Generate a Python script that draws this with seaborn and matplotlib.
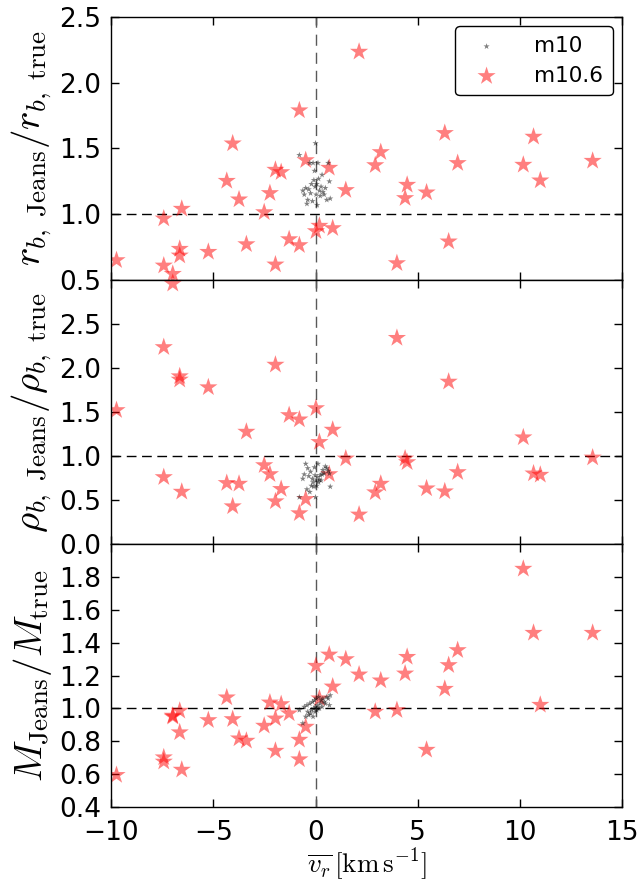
import matplotlib
matplotlib.use("Agg")
import matplotlib.pyplot as plt
import seaborn as sns
import numpy as np

# ---------------- data ----------------
# m10.6 (red stars)
vr_m106 = [-9.73, -7.42, -7.42, -6.98, -6.98, -6.64, -6.64, -6.54, -5.24, -4.34,
           -4.05, -3.74, -3.38, -2.51, -2.23, -1.96, -1.96, -1.68, -1.29, -0.79,
           -0.79, -0.48, 0.02, 0.19, 0.67, 0.84, 1.48, 2.13, 2.92, 3.19,
           3.98, 4.38, 4.48, 5.43, 6.32, 6.51, 6.95, 10.16, 10.66, 10.99, 13.55]
rb_m106 = [0.652, 0.968, 0.611, 0.548, 0.480, 0.738, 0.687, 1.042, 0.715, 1.254,
           1.538, 1.113, 0.773, 1.016, 1.161, 1.338, 0.619, 1.320, 0.811, 1.789,
           0.766, 1.411, 0.872, 0.913, 1.353, 0.895, 1.184, 2.234, 1.373, 1.472,
           0.629, 1.123, 1.224, 1.166, 1.617, 0.794, 1.389, 1.376, 1.589, 1.257, 1.406]
rho_m106 = [1.521, 2.238, 0.758, 2.960, 3.200, 1.906, 1.868, 0.592, 1.781, 0.691,
            0.426, 0.683, 1.275, 0.894, 0.792, 2.038, 0.483, 0.623, 1.464, 1.415,
            0.347, 0.509, 1.543, 1.158, 0.792, 1.298, 0.970, 0.332, 0.585, 0.683,
            2.343, 0.970, 0.928, 0.630, 0.596, 1.845, 0.815, 1.211, 0.800, 0.785, 0.981]
M_m106 = [0.596, 0.703, 0.677, 0.956, 0.950, 0.986, 0.855, 0.628, 0.929, 1.067,
          0.935, 0.818, 0.804, 0.895, 1.036, 0.939, 0.743, 1.026, 0.970, 0.810,
          0.691, 0.889, 1.259, 1.061, 1.327, 1.133, 1.299, 1.206, 0.980, 1.170,
          0.990, 1.212, 1.313, 0.749, 1.119, 1.263, 1.354, 1.848, 1.459, 1.022, 1.459]

# m10 (small black stars)
vr_m10 = [-0.79, -0.62, -0.55, -0.48, -0.42, -0.38, -0.33, -0.28, -0.24, -0.20,
          -0.15, -0.12, -0.08, -0.05, -0.02, 0.00, 0.03, 0.06, 0.08, 0.12,
          0.15, 0.19, 0.23, 0.27, 0.32, 0.36, 0.42, 0.48, 0.55, 0.62, 0.68, 0.72]
rb_m10 = [1.45, 1.18, 1.15, 1.20, 1.08, 1.11, 1.19, 1.39, 1.16, 1.23,
          1.10, 1.39, 1.26, 1.33, 1.21, 1.54, 1.15, 1.23, 1.07, 1.39,
          1.27, 1.18, 1.14, 1.21, 1.30, 1.17, 1.15, 1.20, 1.11, 1.39, 1.25, 1.12]
rho_m10 = [0.53, 0.74, 0.79, 0.91, 0.62, 0.86, 0.77, 0.59, 0.82, 0.66,
           0.74, 0.70, 0.65, 0.87, 0.78, 0.53, 0.72, 0.66, 0.76, 0.91,
           0.70, 0.73, 0.78, 0.72, 0.79, 0.84, 0.80, 0.88, 0.86, 0.83, 0.80, 0.65]
M_m10 = [0.99, 0.91, 1.01, 0.95, 1.02, 0.98, 0.96, 1.03, 0.97, 0.99,
         1.04, 0.95, 1.00, 1.05, 0.98, 1.01, 1.06, 0.99, 1.02, 1.00,
         1.07, 1.00, 1.03, 1.05, 1.01, 1.06, 1.04, 1.03, 1.07, 1.06, 1.02, 1.08]

xticks = [-10, -5, 0, 5, 10, 15]
yticks_top = [0.5, 1.0, 1.5, 2.0, 2.5]
yticks_mid = [0.0, 0.5, 1.0, 1.5, 2.0, 2.5]
yticks_bot = [0.4, 0.6, 0.8, 1.0, 1.2, 1.4, 1.6, 1.8]

ylabels = [r"$r_{b,\ \mathrm{Jeans}}/r_{b,\ \mathrm{true}}$",
           r"$\rho_{b,\ \mathrm{Jeans}}/\rho_{b,\ \mathrm{true}}$",
           r"$M_{\mathrm{Jeans}}/M_{\mathrm{true}}$"]
xlabel = r"$\overline{v_r}\,[\mathrm{km\,s^{-1}}]$"

# ---------------- style ----------------
sns.set_style("ticks")
plt.rcParams["font.family"] = ["DejaVu Sans"]
plt.rcParams["mathtext.fontset"] = "cm"
plt.rcParams["axes.linewidth"] = 1.0
plt.rcParams["axes.unicode_minus"] = True
plt.rcParams["text.color"] = "k"
plt.rcParams["axes.labelcolor"] = "k"
plt.rcParams["xtick.color"] = "k"
plt.rcParams["ytick.color"] = "k"

fig = plt.figure(figsize=(6.41, 8.84), dpi=100)
left, right, top, bottom = 111 / 641, 622.3 / 641, 1 - 16.7 / 884, 1 - 807.3 / 884
h = (top - bottom) / 3
axes = [fig.add_axes([left, top - (i + 1) * h, right - left, h]) for i in range(3)]

ys_m106 = [rb_m106, rho_m106, M_m106]
ys_m10 = [rb_m10, rho_m10, M_m10]
ylims = [(0.5, 2.5), (0.0, 3.0), (0.4, 2.0)]
yticks = [yticks_top, yticks_mid, yticks_bot]

for i, ax in enumerate(axes):
    ax.axhline(1.0, color="k", ls="--", lw=1.0, dashes=(7, 4), zorder=1)
    ax.axvline(0.0, color="0.35", ls="--", lw=1.0, dashes=(8, 5), zorder=1)
    sns.scatterplot(x=vr_m10, y=ys_m10[i], ax=ax, marker="*", s=22, color="k",
                    alpha=0.5, edgecolor="none", label="m10", zorder=3)
    sns.scatterplot(x=vr_m106, y=ys_m106[i], ax=ax, marker="*", s=190, color="red",
                    alpha=0.5, edgecolor="none", label="m10.6", zorder=2)
    ax.set_xlim(-10, 15)
    ax.set_ylim(*ylims[i])
    ax.set_xticks(xticks)
    ax.set_yticks(yticks[i])
    ax.set_yticklabels([f"{t:.1f}" for t in yticks[i]])
    ax.tick_params(direction="in", top=True, right=True, length=6, width=1,
                   labelsize=19, colors="k")
    ax.tick_params(axis="y", pad=7)
    ax.tick_params(axis="x", pad=9)
    for sp in ax.spines.values():
        sp.set_visible(True)
        sp.set_color("k")
        sp.set_linewidth(1.0)
    ax.set_ylabel(ylabels[i], fontsize=28, labelpad=4)
    if i < 2:
        ax.tick_params(labelbottom=False)
        ax.set_xlabel("")
    if i == 0:
        ax.legend(loc="upper right", fontsize=15.5, scatterpoints=1, frameon=True,
                  fancybox=True, framealpha=1, edgecolor="k", handletextpad=1.2,
                  borderpad=0.45, labelspacing=0.45, borderaxespad=0.45)
    else:
        lg = ax.get_legend()
        if lg is not None:
            lg.remove()

axes[2].set_xlabel(xlabel, fontsize=19.5, labelpad=0)
fig.align_ylabels(axes)

fig.savefig("out.png", dpi=100, facecolor="white")
